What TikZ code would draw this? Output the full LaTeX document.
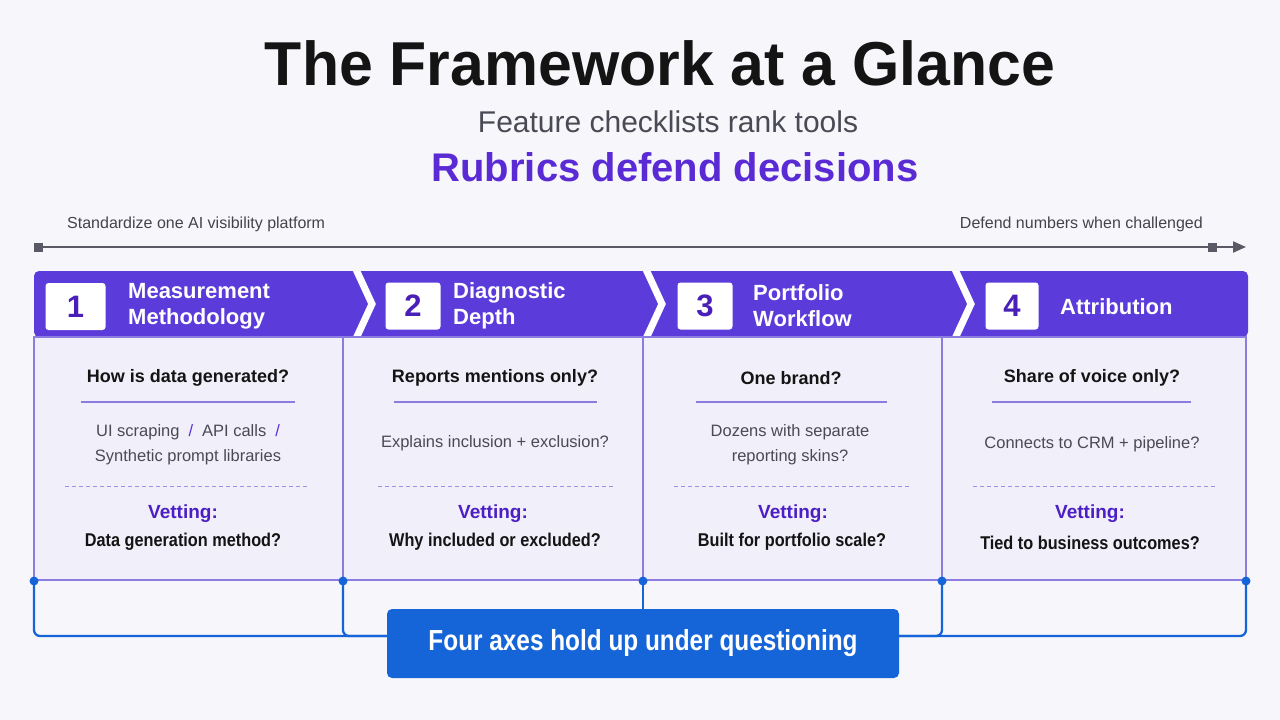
\documentclass[tikz,border=0pt]{standalone}
\usepackage{fontspec}
\setmainfont{Liberation Sans}
\newfontfamily\ansfont{Liberation Sans}[FakeStretch=0.88]
\newfontfamily\condfont{Liberation Sans}[FakeStretch=0.84]
\newfontfamily\titlefont{Liberation Sans}[FakeStretch=0.98]
\usetikzlibrary{arrows.meta}
\definecolor{bgc}{HTML}{F7F7FB}
\definecolor{hdr}{HTML}{5B3BD9}
\definecolor{numc}{HTML}{4A1FB8}
\definecolor{panelc}{HTML}{F1EFFA}
\definecolor{panelb}{HTML}{8E7BE0}
\definecolor{purtxt}{HTML}{5A2BD4}
\definecolor{vetc}{HTML}{4C1FC4}
\definecolor{bluec}{HTML}{1565D8}
\definecolor{grayt}{HTML}{4A4A55}
\definecolor{tlc}{HTML}{5A5A66}
\definecolor{blk}{HTML}{141414}
\tikzset{
  hdrtxt/.style={text=white, font=\fontsize{22}{26}\selectfont\bfseries, align=left, anchor=west, inner sep=0pt},
  numbox/.style={fill=white, rounded corners=3pt, minimum height=47pt, inner sep=0pt, text=numc, font=\fontsize{31}{31}\selectfont\bfseries},
  qtxt/.style={text=blk, font=\fontsize{18}{22}\selectfont\bfseries, inner sep=0pt},
  desctxt/.style={text=grayt, font=\fontsize{16.5}{25}\selectfont, align=center, inner sep=0pt},
  vettxt/.style={text=vetc, font=\fontsize{19}{22}\selectfont\bfseries, inner sep=0pt},
  anstxt/.style={text=blk, font=\ansfont\fontsize{18.5}{22}\selectfont\bfseries, inner sep=0pt},
  uline/.style={draw=panelb, line width=1.5pt},
  dline/.style={draw=panelb!85, line width=1pt, dash pattern=on 4pt off 3pt},
  conn/.style={draw=bluec, line width=2.3pt, rounded corners=6pt},
  dotc/.style={circle, fill=bluec, inner sep=0pt, minimum size=9pt},
  sqm/.style={fill=tlc, inner sep=0pt, minimum size=9pt},
  tltxt/.style={text=grayt!90!black, font=\fontsize{16}{18}\selectfont, inner sep=0pt},
  sumbox/.style={fill=bluec, rounded corners=5pt, minimum width=512pt, minimum height=69pt, inner sep=0pt, text=white, font=\condfont\fontsize{29}{30}\selectfont\bfseries}
}
\begin{document}
\begin{tikzpicture}[x=1pt,y=-1pt]
\fill[bgc] (0,0) rectangle (1280,720);
\useasboundingbox (0,0) rectangle (1280,720);

% titles
\node[text=blk, font=\titlefont\fontsize{62}{66}\selectfont\bfseries, inner sep=0pt] (title) at (660,63) {The Framework at a Glance};
\node[text=grayt, font=\fontsize{30}{32}\selectfont, inner sep=0pt] (sub1) at (668,122) {Feature checklists rank tools};
\node[text=purtxt, font=\fontsize{40}{42}\selectfont\bfseries, inner sep=0pt] (sub2) at (675,167) {Rubrics defend decisions};

% timeline
\coordinate (tls) at (34,247);
\coordinate (tle) at (1246,247);
\draw[tlc, line width=2pt, -{Triangle[length=13pt,width=11pt]}] (tls) -- (tle);
\node[sqm] (sq1) at (38,247) {};
\node[sqm] (sq2) at (1212,247) {};
\node[tltxt, anchor=west] (tl1) at (67,224) {Standardize one AI visibility platform};
\node[tltxt, anchor=east] (tl2) at (1203,224) {Defend numbers when challenged};

% header band
\fill[hdr, rounded corners=5pt] (34,271) rectangle (1248,337);
\begin{scope}
\clip (34,271) rectangle (1248,337);
\foreach \cx in {354,644,953}{
  \draw[white, line width=7pt, line join=miter] (\cx,265) -- (\cx+18,304) -- (\cx,343);
}
\end{scope}

\node[numbox, minimum width=60pt] (n1) at (75.5,306.5) {1};
\node[numbox, minimum width=55pt] (n2) at (413,306) {2};
\node[numbox, minimum width=55pt] (n3) at (705,306) {3};
\node[numbox, minimum width=53pt] (n4) at (1012,306) {4};
\node[hdrtxt] (h1) at (128,306) {Measurement\\Methodology};
\node[hdrtxt] (h2) at (453,306) {Diagnostic\\Depth};
\node[hdrtxt] (h3) at (753,306) {Portfolio\\Workflow};
\node[hdrtxt] (h4) at (1060,307) {Attribution};

% panels
\draw[panelb, fill=panelc, line width=1.2pt] (34,337) rectangle (1246,580);
\foreach \vx in {343,643,942}{
  \draw[panelb, line width=1.2pt] (\vx,337) -- (\vx,580);
}

% column 1
\node[qtxt] (q1) at (188,378) {How is data generated?};
\draw[uline] (81,402) -- (295,402);
\node[desctxt] (d1) at (188,444.5) {UI scraping\hspace{9pt}{\color{purtxt}/}\hspace{9pt}API calls\hspace{9pt}{\color{purtxt}/}\\Synthetic prompt libraries};
\draw[dline] (65,486) -- (308,486);
\node[vettxt] (v1) at (183,514) {Vetting:};
\node[anstxt] (a1) at (183,542) {Data generation method?};

% column 2
\node[qtxt] (q2) at (495,378) {Reports mentions only?};
\draw[uline] (394,402) -- (597,402);
\node[desctxt] (d2) at (495,443) {Explains inclusion + exclusion?};
\draw[dline] (378,486) -- (613,486);
\node[vettxt] (v2) at (493,514) {Vetting:};
\node[anstxt] (a2) at (495,542) {Why included or excluded?};

% column 3
\node[qtxt] (q3) at (791,378) {One brand?};
\draw[uline] (696,402) -- (887,402);
\node[desctxt] (d3) at (790,444.5) {Dozens with separate\\reporting skins?};
\draw[dline] (674,486) -- (909,486);
\node[vettxt] (v3) at (793,514) {Vetting:};
\node[anstxt] (a3) at (792,542) {Built for portfolio scale?};

% column 4
\node[qtxt] (q4) at (1092,378) {Share of voice only?};
\draw[uline] (992,402) -- (1191,402);
\node[desctxt] (d4) at (1092,444) {Connects to CRM + pipeline?};
\draw[dline] (973,486) -- (1215,486);
\node[vettxt] (v4) at (1090,514) {Vetting:};
\node[anstxt] (a4) at (1090,543) {Tied to business outcomes?};

% bottom summary and connectors
\coordinate (p1) at (34,581);
\coordinate (p2) at (343,581);
\coordinate (p3) at (643,581);
\coordinate (p4) at (942,581);
\coordinate (p5) at (1246,581);
\coordinate (sumc) at (643,643.5);
\coordinate (jl) at (387,636);
\coordinate (jr) at (899,636);
\draw[conn] (p1) |- (jl);
\draw[conn] (p2) |- (jl);
\draw[conn] (p3) -- (sumc);
\draw[conn] (p5) |- (jr);
\draw[conn] (p4) |- (jr);
\node[sumbox] (sum) at (sumc) {Four axes hold up under questioning};
\foreach \p in {p1,p2,p3,p4,p5}{ \node[dotc] at (\p) {}; }
\end{tikzpicture}
\end{document}
